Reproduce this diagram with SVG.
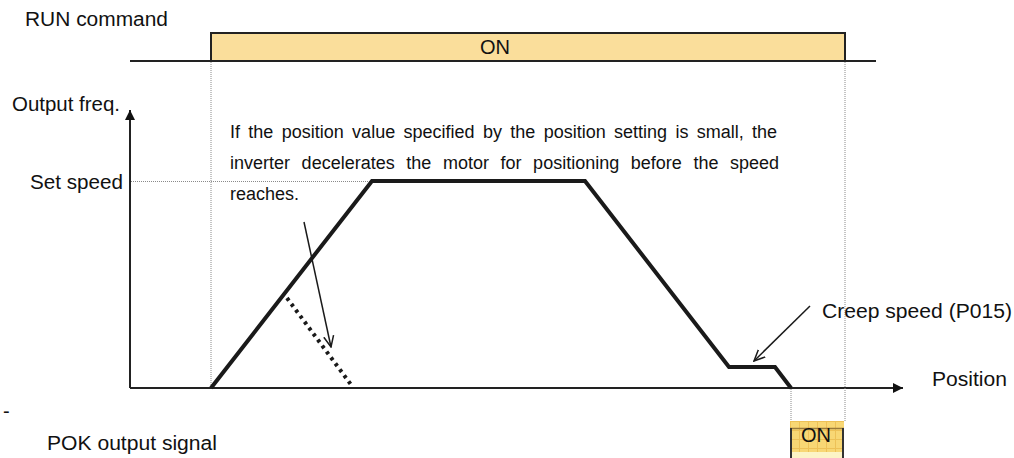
<svg xmlns="http://www.w3.org/2000/svg" width="1014" height="458" viewBox="0 0 1014 458">
<style>
text{font-family:"Liberation Sans",Arial,sans-serif;fill:#111}
.lbl{font-size:20px}
.para{font-size:18px}
.axis{stroke:#222;stroke-width:2;fill:none}
.sig{stroke:#222;stroke-width:2}
.guide{stroke:#8a8a8a;stroke-width:1;stroke-dasharray:1 1;fill:none}
.prof{stroke:#1a1a1a;stroke-width:4;fill:none;stroke-linejoin:miter}
.ann{stroke:#1a1a1a;stroke-width:1.5;fill:none}
</style>
<defs>
<marker id="tri" viewBox="0 0 10 10" refX="10" refY="5" markerWidth="10" markerHeight="10" markerUnits="userSpaceOnUse" orient="auto">
<path d="M0,0 L10,5 L0,10 Z" fill="#111"/>
</marker>
<marker id="vee" viewBox="0 0 12 12" refX="11" refY="6" markerWidth="12" markerHeight="12" markerUnits="userSpaceOnUse" orient="auto">
<path d="M0,1 L11,6 L0,11" fill="none" stroke="#1a1a1a" stroke-width="1.5"/>
</marker>
<pattern id="grid" width="9" height="9" patternUnits="userSpaceOnUse" x="790" y="421">
<rect width="9" height="9" fill="#F8D774"/>
<path d="M0,0.5 H9 M0.5,0 V9" stroke="#EDC157" stroke-width="1"/>
</pattern>
</defs>

<g id="run-signal">
<text class="lbl" x="25" y="26" textLength="143" lengthAdjust="spacingAndGlyphs">RUN command</text>
<rect x="211" y="33" width="634" height="28" fill="#FADE9B"/>
<path class="sig" d="M130,61 H211 V33 H845 V61 H876 M211,61 H845" fill="none"/>
<text class="lbl" x="495" y="54" text-anchor="middle">ON</text>
</g>

<g id="axes">
<path class="axis" d="M130,388 V110" marker-end="url(#tri)"/>
<path class="axis" d="M130,388 H903" marker-end="url(#tri)"/>
<text class="lbl" x="12" y="111" textLength="108" lengthAdjust="spacingAndGlyphs">Output freq.</text>
<text class="lbl" x="30" y="189" textLength="93" lengthAdjust="spacingAndGlyphs">Set speed</text>
<text class="lbl" x="932" y="386" textLength="75" lengthAdjust="spacingAndGlyphs">Position</text>
</g>

<g id="guides">
<path class="guide" d="M211,62 V387"/>
<path class="guide" d="M845,62 V421"/>
<path class="guide" d="M131,181.5 H372"/>
<path class="guide" d="M791,389 V421"/>
</g>

<g id="profile">
<path class="prof" d="M211,388 L372,181 H585 L729,367 H775 L791,388"/>
<path d="M287,298 L352,386" stroke="#1a1a1a" stroke-width="4" stroke-dasharray="3.2 4.2" fill="none"/>
</g>

<g id="note">
<text class="para" x="230" y="138" style="word-spacing:3.35px">If the position value specified by the position setting is small, the</text>
<text class="para" x="230" y="169" style="word-spacing:6.6px">inverter decelerates the motor for positioning before the speed</text>
<text class="para" x="230" y="200">reaches.</text>
</g>

<g id="creep-label">
<text class="lbl" x="822" y="318" textLength="190" lengthAdjust="spacingAndGlyphs">Creep speed (P015)</text>
</g>

<g id="connectors">
<path class="ann" d="M304,222 L331,347" marker-end="url(#vee)"/>
<path class="ann" d="M810,306 L754,361" marker-end="url(#vee)"/>
</g>

<g id="pok-signal">
<text class="lbl" x="3" y="418">-</text>
<text class="lbl" x="47" y="450" textLength="170" lengthAdjust="spacingAndGlyphs">POK output signal</text>
<rect x="790" y="421" width="54" height="31" fill="url(#grid)"/>
<rect x="790" y="452" width="54" height="6" fill="#FCF4C6"/>
<path d="M790,428.5 H844" stroke="#9a7a3a" stroke-width="1.5"/>
<path d="M791,428 V458 M843,428 V458" stroke="#333" stroke-width="2"/>
<text class="lbl" x="816" y="442" text-anchor="middle">ON</text>
</g>
</svg>
